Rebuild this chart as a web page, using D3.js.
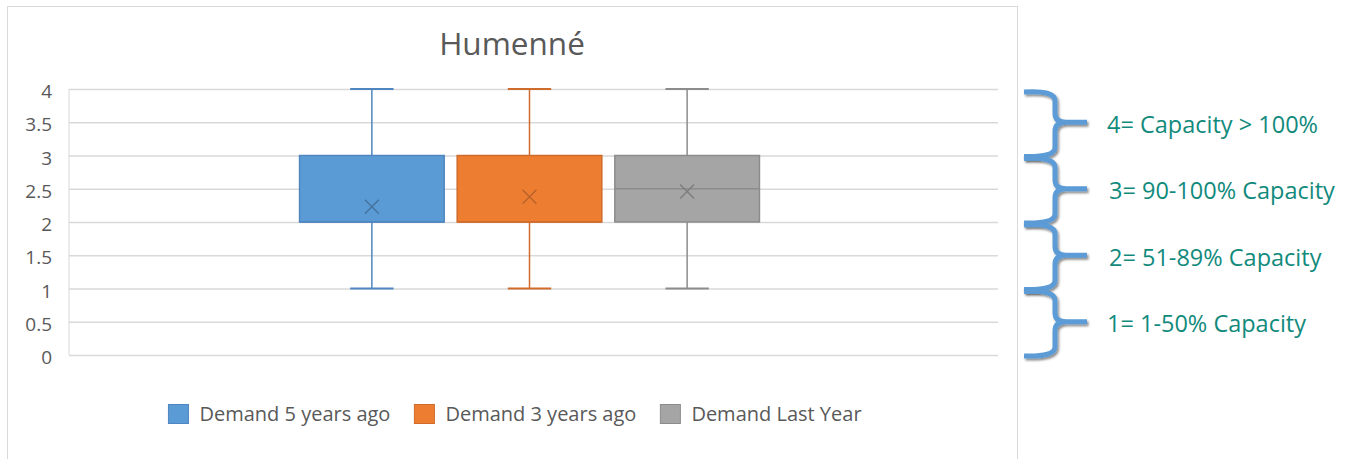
<!DOCTYPE html>
<html>
<head>
<meta charset="utf-8">
<script src="https://cdn.jsdelivr.net/npm/d3@7"></script>
<style>
    body { margin: 0; background: #fff; }
    svg { display: block; font-family: "Open Sans", sans-serif; }
</style>
</head>
<body>
<svg width="1353" height="459"></svg>
<script>
const TITLE = 'Humenné';
const SERIES = ['Demand 5 years ago', 'Demand 3 years ago', 'Demand Last Year'];
const MINS = [1, 1, 1];
const Q1S = [2, 2, 2];
const MEDIANS = [2, 2, 2.5];
const Q3S = [3, 3, 3];
const MAXS = [4, 4, 4];
const MEANS = [2.23, 2.38, 2.46];
const Y_TICKS = [0, 0.5, 1, 1.5, 2, 2.5, 3, 3.5, 4];
const CAPACITY_LABELS = ['4= Capacity > 100%', '3= 90-100% Capacity', '2= 51-89% Capacity', '1= 1-50% Capacity'];
const CAPACITY_RANGES = [[3, 4], [2, 3], [1, 2], [0, 1]];

const FILLS = ['#5b9bd5', '#ed7d31', '#a5a5a5'];
const STROKES = ['#4f86bf', '#cf6b2b', '#8c8c8c'];
const MEAN_COLORS = ['#44729f', '#b8632b', '#7d7d7d'];
const TEXT = '#595959';
const GRID = '#d9d9d9';

const svg = d3.select('svg');

const boxes = SERIES.map((name, i) => ({
    name, i,
    min: MINS[i], q1: Q1S[i], median: MEDIANS[i], q3: Q3S[i], max: MAXS[i], mean: MEANS[i]
}));

const y = d3.scaleLinear().domain([0, 4]).range([355, 89]);
const x0 = d3.scaleBand().domain([TITLE]).range([69, 990]).paddingOuter(0.4746);
const x1 = d3.scaleBand().domain(SERIES).range([0, x0.bandwidth()])
    .paddingInner(0.0825).paddingOuter(0.04);

// chart frame
svg.append('rect')
    .attr('x', 7.5).attr('y', 6.5)
    .attr('width', 1010).attr('height', 480)
    .attr('fill', '#fff')
    .attr('stroke', GRID);

svg.append('text')
    .text(TITLE)
    .attr('x', 512).attr('y', 55)
    .attr('text-anchor', 'middle')
    .style('font-size', '31.5px')
    .attr('fill', TEXT);

// grid + y axis
const yAxis = d3.axisLeft(y)
    .tickValues(Y_TICKS)
    .tickSize(-(998 - 69))
    .tickPadding(17)
    .tickFormat(d3.format('~g'));

const gy = svg.append('g')
    .attr('transform', 'translate(69,0)')
    .call(yAxis)
    .attr('font-family', '"Open Sans", sans-serif')
    .attr('font-size', 19);
gy.select('.domain').attr('stroke', GRID).attr('d', `M0,${y(4)}V${y(0)}`);
gy.selectAll('.tick line').attr('stroke', GRID).attr('stroke-width', 1.3);
gy.selectAll('.tick text')
    .attr('fill', TEXT)
    .attr('dy', '0.45em');

// boxes
const g = svg.append('g')
    .selectAll('g')
    .data(boxes)
    .enter()
    .append('g')
    .attr('transform', d => `translate(${x0(TITLE) + x1(d.name)},0)`);

const bw = x1.bandwidth();
const cx = bw / 2;
const cap = bw * 0.3;

g.append('line')
    .attr('x1', cx).attr('x2', cx)
    .attr('y1', d => y(d.max)).attr('y2', d => y(d.q3))
    .attr('stroke', d => STROKES[d.i]).attr('stroke-width', 1.5);
g.append('line')
    .attr('x1', cx).attr('x2', cx)
    .attr('y1', d => y(d.q1)).attr('y2', d => y(d.min))
    .attr('stroke', d => STROKES[d.i]).attr('stroke-width', 1.5);
g.selectAll('.cap')
    .data(d => [{ v: d.max, i: d.i }, { v: d.min, i: d.i }])
    .enter()
    .append('line')
    .attr('class', 'cap')
    .attr('x1', cx - cap / 2).attr('x2', cx + cap / 2)
    .attr('y1', d => y(d.v)).attr('y2', d => y(d.v))
    .attr('stroke', d => STROKES[d.i]).attr('stroke-width', 2);

g.append('rect')
    .attr('x', 0)
    .attr('y', d => y(d.q3))
    .attr('width', bw)
    .attr('height', d => y(d.q1) - y(d.q3))
    .attr('fill', d => FILLS[d.i])
    .attr('stroke', d => STROKES[d.i])
    .attr('stroke-width', 1.5);

g.append('line')
    .attr('x1', 0).attr('x2', bw)
    .attr('y1', d => y(d.median)).attr('y2', d => y(d.median))
    .attr('stroke', d => STROKES[d.i]).attr('stroke-width', 1.5);

const ms = 7;
g.append('path')
    .attr('d', d => {
        const my = y(d.mean);
        return `M${cx - ms},${my - ms}L${cx + ms},${my + ms}M${cx + ms},${my - ms}L${cx - ms},${my + ms}`;
    })
    .attr('stroke', d => MEAN_COLORS[d.i])
    .attr('stroke-width', 1.4)
    .attr('fill', 'none');

// legend
const legend = svg.append('g').attr('class', 'legend');
const items = legend.selectAll('g')
    .data(SERIES)
    .enter()
    .append('g');
items.append('rect')
    .attr('width', 20).attr('height', 19)
    .attr('y', 404.5)
    .attr('fill', (d, i) => FILLS[i])
    .attr('stroke', (d, i) => STROKES[i]);
items.append('text')
    .text(d => d)
    .attr('x', 31)
    .attr('y', 414)
    .attr('dy', '0.35em')
    .attr('fill', TEXT)
    .style('font-size', '20px');

let lx = 0;
const offsets = [];
items.each(function () {
    offsets.push(lx);
    const w = 31 + d3.select(this).select('text').node().getComputedTextLength();
    lx += w + 24;
});
const totalW = lx - 24;
const startX = 515 - totalW / 2;
items.attr('transform', (d, i) => `translate(${startX + offsets[i]},0)`);

// capacity braces
const shadow = svg.append('defs').append('filter')
    .attr('id', 'shadow')
    .attr('x', '-20%').attr('y', '-20%')
    .attr('width', '160%').attr('height', '160%');
shadow.append('feDropShadow')
    .attr('dx', 1.5).attr('dy', 2)
    .attr('stdDeviation', 1.2)
    .attr('flood-color', '#000')
    .attr('flood-opacity', 0.45);

const bx0 = 1024, bxm = 1055, bxt = 1087, r = 9;
const braces = svg.append('g')
    .selectAll('g')
    .data(CAPACITY_RANGES)
    .enter()
    .append('g');

braces.append('path')
    .attr('d', d => {
        const top = y(d[1]) + 3;
        const bot = y(d[0]) + 1;
        const mid = (top + bot) / 2 - 2;
        return `M${bx0},${top} Q${bxm},${top - 2} ${bxm},${top + r}` +
            ` L${bxm},${mid - r} Q${bxm},${mid} ${bxm + r + 2},${mid} L${bxt},${mid}` +
            ` M${bxm + r + 2},${mid} Q${bxm},${mid} ${bxm},${mid + r}` +
            ` L${bxm},${bot - r} Q${bxm},${bot + 1} ${bx0},${bot}`;
    })
    .attr('fill', 'none')
    .attr('stroke', '#5b9bd5')
    .attr('stroke-width', 5)
    .attr('filter', 'url(#shadow)');

braces.append('text')
    .text((d, i) => CAPACITY_LABELS[i])
    .attr('x', (d, i) => i === 0 || i === 3 ? 1107 : 1109)
    .attr('y', d => (y(d[0]) + y(d[1])) / 2 + 2.5)
    .attr('dy', '0.35em')
    .attr('fill', '#118a7c')
    .style('font-size', '23.5px');
</script>
</body>
</html>
